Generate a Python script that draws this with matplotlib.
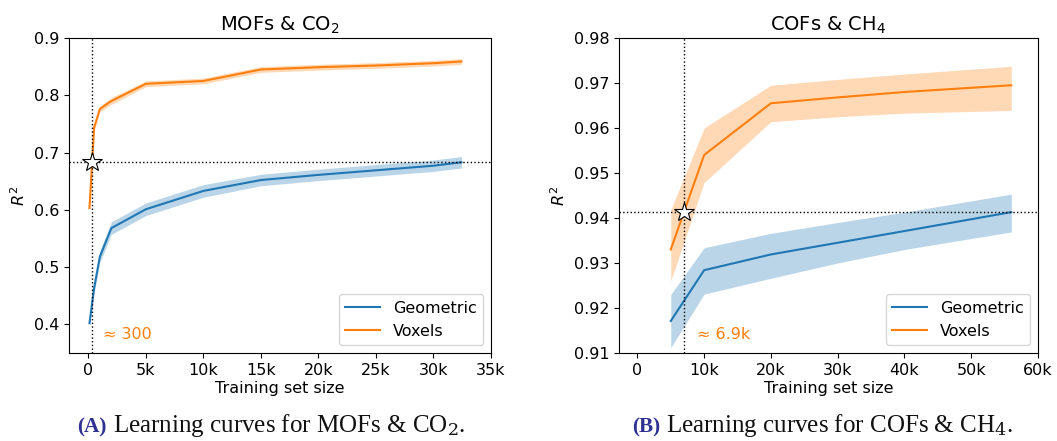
import numpy as np
import matplotlib
matplotlib.use("Agg")
import matplotlib.pyplot as plt

# ---- Data: MOFs & CO2 ----
mof_x_geo = [100, 500, 1000, 2000, 5000, 10000, 15000, 20000, 25000, 30000, 32432]
mof_geo = [0.402, 0.463, 0.518, 0.568, 0.601, 0.633, 0.652, 0.661, 0.669, 0.677, 0.683]
mof_geo_sd = [0.004, 0.009, 0.010, 0.011, 0.011, 0.011, 0.010, 0.010, 0.010, 0.010, 0.010]
mof_x_vox = [100, 500, 1000, 2000, 5000, 10000, 15000, 20000, 25000, 30000, 32432]
mof_vox = [0.603, 0.743, 0.776, 0.790, 0.820, 0.825, 0.845, 0.849, 0.852, 0.856, 0.859]
mof_vox_sd = [0.003, 0.004, 0.005, 0.006, 0.005, 0.005, 0.005, 0.005, 0.005, 0.005, 0.005]

# ---- Data: COFs & CH4 ----
cof_x = [5000, 10000, 20000, 30000, 40000, 56000]
cof_geo = [0.9171, 0.9284, 0.9319, 0.9345, 0.9371, 0.9413]
cof_geo_lo = [0.9112, 0.9231, 0.9266, 0.9300, 0.9330, 0.9369]
cof_geo_hi = [0.9230, 0.9334, 0.9366, 0.9390, 0.9413, 0.9453]
cof_vox = [0.9330, 0.9540, 0.9655, 0.9668, 0.9680, 0.9695]
cof_vox_lo = [0.9260, 0.9479, 0.9614, 0.9625, 0.9633, 0.9639]
cof_vox_hi = [0.9418, 0.9600, 0.9695, 0.9708, 0.9720, 0.9737]

blue = '#1f77b4'
orange = '#ff7f0e'

plt.rcParams['font.family'] = ['DejaVu Sans']
fig = plt.figure(figsize=(10.57, 4.41), dpi=100)
ax1 = fig.add_axes([69/1057, 1-353/441, (491-69)/1057, (353-38)/441])
ax2 = fig.add_axes([619/1057, 1-353/441, (1038-619)/1057, (353-38)/441])

fs = 11.5
tfs = 14

def kfmt(v, pos):
    return '0' if v == 0 else f'{int(v/1000)}k'

# Left panel
ax = ax1
g = np.array(mof_geo); gs = np.array(mof_geo_sd)
v = np.array(mof_vox); vs = np.array(mof_vox_sd)
ax.fill_between(mof_x_geo, g-gs, g+gs, color=blue, alpha=0.3, lw=0)
ax.fill_between(mof_x_vox, v-vs, v+vs, color=orange, alpha=0.3, lw=0)
ax.plot(mof_x_geo, g, color=blue, lw=1.5, label='Geometric')
ax.plot(mof_x_vox, v, color=orange, lw=1.5, label='Voxels')
target = mof_geo[-1]
xs = float(np.interp(target, mof_vox[:3], mof_x_vox[:3]))
ax.axhline(target, color='k', ls=':', lw=1)
ax.axvline(xs, color='k', ls=':', lw=1)
ax.plot([xs], [target], marker='*', ms=15, mfc='white', mec='k', mew=0.8, zorder=5)
ax.text(1250, 0.3825, '≈ 300', color=orange, fontsize=fs, va='center', ha='left')
ax.set_xlim(-1680, 35000)
ax.set_ylim(0.35, 0.9)
ax.set_xticks(range(0, 35001, 5000))
ax.set_yticks([0.4, 0.5, 0.6, 0.7, 0.8, 0.9])
ax.set_title('MOFs & CO$_2$', fontsize=tfs, pad=5)

# Right panel
ax = ax2
ax.fill_between(cof_x, cof_geo_lo, cof_geo_hi, color=blue, alpha=0.3, lw=0)
ax.fill_between(cof_x, cof_vox_lo, cof_vox_hi, color=orange, alpha=0.3, lw=0)
ax.plot(cof_x, cof_geo, color=blue, lw=1.5, label='Geometric')
ax.plot(cof_x, cof_vox, color=orange, lw=1.5, label='Voxels')
target2 = cof_geo[-1]
xs2 = float(np.interp(target2, cof_vox[:2], cof_x[:2]))
ax.axhline(target2, color='k', ls=':', lw=1)
ax.axvline(xs2, color='k', ls=':', lw=1)
ax.plot([xs2], [target2], marker='*', ms=15, mfc='white', mec='k', mew=0.8, zorder=5)
ax.text(8900, 0.9141, '≈ 6.9k', color=orange, fontsize=fs, va='center', ha='left')
ax.set_xlim(-2750, 60000)
ax.set_ylim(0.91, 0.98)
ax.set_xticks(range(0, 60001, 10000))
ax.set_yticks([0.91, 0.92, 0.93, 0.94, 0.95, 0.96, 0.97, 0.98])
ax.set_title('COFs & CH$_4$', fontsize=tfs, pad=5)

for ax in (ax1, ax2):
    ax.xaxis.set_major_formatter(matplotlib.ticker.FuncFormatter(kfmt))
    ax.tick_params(labelsize=fs)
    ax.set_xlabel('Training set size', fontsize=fs, labelpad=2)
    ax.set_ylabel('$R^2$', fontsize=fs)
    ax.legend(loc='lower right', fontsize=fs, handlelength=2.2)

# Captions
cap_fs = 18
base = 1 - 432/441
fig.text(107/1057, base, '(A)', color='#2e3192', fontsize=cap_fs*0.85, fontweight='bold',
         family='Liberation Serif', ha='right', va='baseline')
fig.text(113/1057, base, 'Learning curves for MOFs & CO$_2$.', color='#111111', fontsize=cap_fs,
         family='Liberation Serif', math_fontfamily='dejavuserif', ha='left', va='baseline')
fig.text(660/1057, base, '(B)', color='#2e3192', fontsize=cap_fs*0.85, fontweight='bold',
         family='Liberation Serif', ha='right', va='baseline')
fig.text(666/1057, base, 'Learning curves for COFs & CH$_4$.', color='#111111', fontsize=cap_fs,
         family='Liberation Serif', math_fontfamily='dejavuserif', ha='left', va='baseline')

fig.savefig('out.png', dpi=100)
